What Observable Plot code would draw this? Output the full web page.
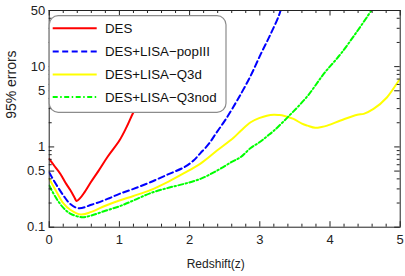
<!DOCTYPE html>
<html><head><meta charset="utf-8">
<script src="https://cdn.jsdelivr.net/npm/d3@7"></script>
<script src="https://cdn.jsdelivr.net/npm/@observablehq/plot@0.6"></script>
<style>body{margin:0;background:#fff;} #chart{width:405px;height:276px;}</style>
</head><body><div id="chart"></div>
<script>
// ---- data ----
const seriesNames = ["DES", "DES+LISA\u2212popIII", "DES+LISA\u2212Q3d", "DES+LISA\u2212Q3nod"];
const seriesColors = ["#ff0000", "#0000ff", "#ffff00", "#00ff00"];
const seriesDash = [null, "6,3.5", null, "5,2.5,1.5,2.5"];

const desZ = [0, 0.08, 0.16, 0.23, 0.3, 0.36, 0.39, 0.44, 0.5, 0.59, 0.7, 0.83, 1.0, 1.1, 1.2, 1.4, 1.6];
const desV = [0.71, 0.57, 0.46, 0.36, 0.29, 0.235, 0.212, 0.23, 0.27, 0.36, 0.5, 0.75, 1.2, 1.75, 2.7, 5.5, 11];

const popZ = [0, 0.1, 0.2, 0.3, 0.42, 0.6, 0.83, 1.0, 1.2, 1.44, 1.7, 1.92, 2.05, 2.155, 2.27, 2.393, 2.52, 2.654, 2.725, 2.87, 3.01, 3.14, 3.27, 3.31];
const popV = [0.48, 0.34, 0.25, 0.195, 0.172, 0.19, 0.225, 0.26, 0.30, 0.363, 0.458, 0.557, 0.67, 0.837, 1.08, 1.55, 2.24, 3.5, 4.47, 7.7, 14.1, 24, 42.8, 55];

const q3dZ = [0, 0.1, 0.2, 0.3, 0.45, 0.6, 0.8, 1.0, 1.2, 1.44, 1.7, 1.92, 2.155, 2.39, 2.63, 2.73, 2.87, 3.0, 3.1, 3.2, 3.27, 3.34, 3.48, 3.6, 3.68, 3.79, 3.88, 3.96, 4.15, 4.39, 4.48, 4.62, 4.81, 4.98, 5.0];
const q3dV = [0.40, 0.28, 0.20, 0.165, 0.144, 0.155, 0.185, 0.215, 0.245, 0.29, 0.37, 0.47, 0.62, 0.9, 1.31, 1.59, 2.03, 2.3, 2.45, 2.52, 2.5, 2.45, 2.23, 1.95, 1.84, 1.73, 1.77, 1.84, 2.13, 2.52, 2.58, 2.97, 4.13, 6.68, 7.0];

const q3nodZ = [0, 0.1, 0.2, 0.3, 0.47, 0.6, 0.8, 1.0, 1.2, 1.44, 1.7, 1.92, 2.155, 2.39, 2.6, 2.73, 2.87, 3.0, 3.1, 3.2, 3.41, 3.68, 3.91, 4.15, 4.39, 4.59, 4.65];
const q3nodV = [0.33, 0.23, 0.175, 0.148, 0.133, 0.14, 0.16, 0.182, 0.215, 0.265, 0.31, 0.346, 0.40, 0.506, 0.65, 0.75, 0.97, 1.15, 1.35, 1.59, 2.4, 4.3, 8.1, 14.3, 27.8, 50, 60];

const xTickValues = [0, 1, 2, 3, 4, 5];
const xTickLabels = ["0", "1", "2", "3", "4", "5"];
const xMinorTicks = [0.2, 0.4, 0.6, 0.8, 1.2, 1.4, 1.6, 1.8, 2.2, 2.4, 2.6, 2.8, 3.2, 3.4, 3.6, 3.8, 4.2, 4.4, 4.6, 4.8];
const yTickValues = [0.1, 0.5, 1, 5, 10, 50];
const yTickLabels = ["0.1", "0.5", "1", "5", "10", "50"];
const yMinorTicks = [0.2, 0.3, 0.4, 0.6, 0.7, 0.8, 0.9, 2, 3, 4, 6, 7, 8, 9, 20, 30, 40];

const xLabel = "Redshift(z)";
const yLabel = "95% errors";

// ---- build ----
const seriesZ = [desZ, popZ, q3dZ, q3nodZ];
const seriesV = [desV, popV, q3dV, q3nodV];
const tables = seriesZ.map((zs, i) => zs.map((z, j) => ({z, v: seriesV[i][j]})));

const W = 405, H = 276;
const mL = 48.7, mR = 5.3, mT = 10, mB = 49.3;
const plotW = W - mL - mR, plotH = H - mT - mB;
const maj = 5.5, mnr = 3;
const axisColor = "#222";
const font = "Arial, 'Liberation Sans', sans-serif";

const lineMarks = tables.map((t, i) => Plot.line(t, {
  x: "z", y: "v", stroke: seriesColors[i], strokeWidth: 2,
  strokeDasharray: seriesDash[i] || undefined, curve: "catmull-rom", clip: true
}));

const chart = Plot.plot({
  width: W, height: H,
  marginLeft: mL, marginRight: mR, marginTop: mT, marginBottom: mB,
  style: {fontFamily: font, background: "#fff", color: axisColor},
  x: {domain: [0, 5], axis: null},
  y: {type: "log", domain: [0.1, 50], axis: null},
  marks: [
    ...lineMarks,
    // ticks (inward, all four sides)
    Plot.ruleX(xTickValues, {x: d => d, insetTop: plotH - maj, stroke: axisColor}),
    Plot.ruleX(xTickValues, {x: d => d, insetBottom: plotH - maj, stroke: axisColor}),
    Plot.ruleX(xMinorTicks, {x: d => d, insetTop: plotH - mnr, stroke: axisColor}),
    Plot.ruleX(xMinorTicks, {x: d => d, insetBottom: plotH - mnr, stroke: axisColor}),
    Plot.ruleY(yTickValues, {y: d => d, insetRight: plotW - maj, stroke: axisColor}),
    Plot.ruleY(yTickValues, {y: d => d, insetLeft: plotW - maj, stroke: axisColor}),
    Plot.ruleY(yMinorTicks, {y: d => d, insetRight: plotW - mnr, stroke: axisColor}),
    Plot.ruleY(yMinorTicks, {y: d => d, insetLeft: plotW - mnr, stroke: axisColor}),
    // tick labels
    Plot.text(xTickValues, {x: d => d, frameAnchor: "bottom", text: (d, i) => xTickLabels[i], lineAnchor: "top", dy: 8, fontSize: 13, fill: axisColor}),
    Plot.text(yTickValues, {y: d => d, frameAnchor: "left", text: (d, i) => yTickLabels[i], textAnchor: "end", dx: -4, fontSize: 13, fill: axisColor}),
    Plot.frame({stroke: axisColor, strokeWidth: 1}),
    Plot.text([xLabel], {frameAnchor: "bottom", text: d => d, dy: 41, dx: -9, fontSize: 12, fill: axisColor}),
    Plot.text([yLabel], {frameAnchor: "left", text: d => d, rotate: -90, dx: -37.5, fontSize: 14, fill: axisColor})
  ]
});
document.getElementById("chart").appendChild(chart);

// ---- legend (inside plot, top-left) ----
const svg = d3.select(chart);
const lg = svg.append("g").attr("class", "legend").attr("text-anchor", "start");
lg.append("rect").attr("x", 49.2).attr("y", 15.7).attr("width", 176.8).attr("height", 96.6)
  .attr("rx", 9).attr("ry", 9).attr("fill", "#fff").attr("stroke", "#8c8c8c").attr("stroke-width", 1.2);
const rowY = [28.3, 51.5, 74.5, 97];
seriesNames.forEach((name, i) => {
  const l = lg.append("line").attr("x1", 52.7).attr("x2", 96.7).attr("y1", rowY[i]).attr("y2", rowY[i])
    .attr("stroke", seriesColors[i]).attr("stroke-width", 2);
  if (seriesDash[i]) l.attr("stroke-dasharray", seriesDash[i]);
  lg.append("text").attr("x", 105).attr("y", rowY[i]).attr("dy", "0.36em").attr("text-anchor", "start")
    .attr("font-size", 13.3).attr("font-family", font)
    .attr("fill", "#111").text(name);
});
</script>
</body></html>
